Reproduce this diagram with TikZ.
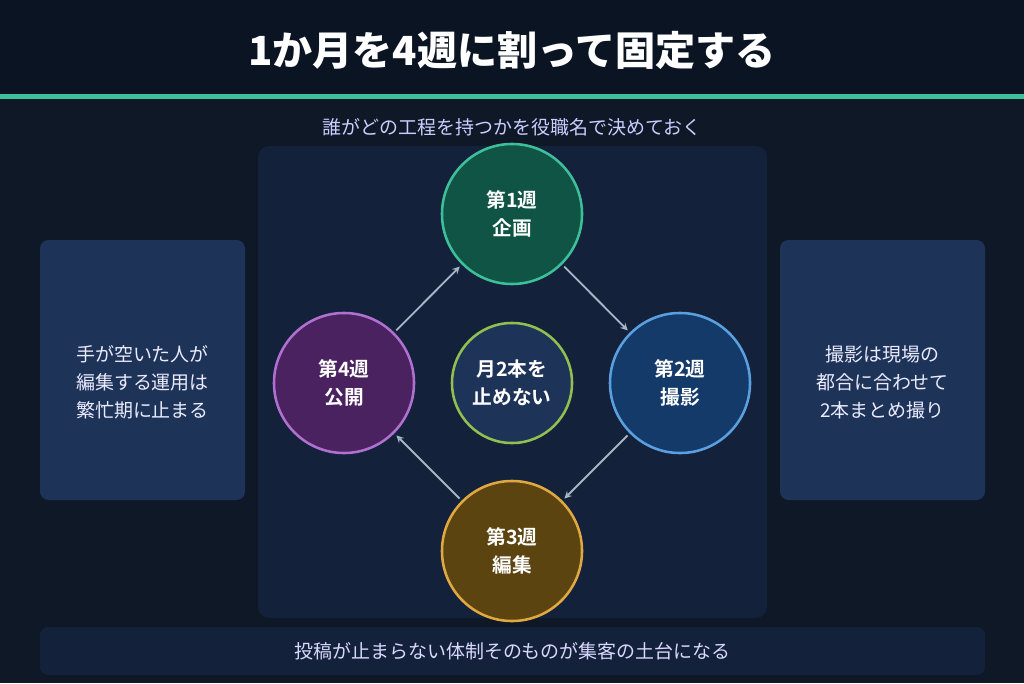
\documentclass[tikz,border=0pt]{standalone}
\usepackage{fontspec}
\setmainfont{Noto Sans CJK JP}
\newfontfamily\jpbold{Noto Sans CJK JP Bold}
\newfontfamily\jpblack{Noto Sans CJK JP Black}
\usetikzlibrary{positioning}
\definecolor{bgdark}{HTML}{0E1826}
\definecolor{bgtitle}{HTML}{0A1422}
\definecolor{accent}{HTML}{3DBF9A}
\definecolor{panel}{HTML}{14213A}
\definecolor{sidebox}{HTML}{1E3358}
\definecolor{arrowgray}{HTML}{A8B6C6}
\tikzset{
  week/.style={circle, minimum size=3.5cm, line width=1.8pt, text=white, align=center,
    font=\jpbold\fontsize{14}{20}\selectfont},
  side/.style={rounded corners=6pt, fill=sidebox, text=white!92!blue, align=center,
    minimum width=5.125cm, minimum height=6.5cm, font=\fontsize{13.5}{20}\selectfont},
  flow/.style={->, >=stealth, line width=1.3pt, arrowgray, shorten >=2pt, shorten <=2pt}
}
\begin{document}
\begin{tikzpicture}[x=0.025cm, y=-0.025cm]
  \useasboundingbox (0,0) rectangle (1024,683);
  \fill[bgdark] (0,0) rectangle (1024,683);
  \fill[bgtitle] (0,0) rectangle (1024,95);
  \fill[accent] (0,94) rectangle (1024,99);

  \node[text=white, font=\jpblack\fontsize{28.5}{32}\selectfont] (title) at (512,50) {1か月を4週に割って固定する};
  \node[text=white!80!blue, font=\fontsize{13.5}{16}\selectfont] (sub) at (512,127) {誰がどの工程を持つかを役職名で決めておく};

  \fill[panel, rounded corners=8pt] (258,146) rectangle (767,618);
  \fill[sidebox, rounded corners=6pt] (40,240) rectangle (245,500) (780,240) rectangle (985,500);
  \node[side, fill=none, minimum height=0pt] (left) at (142.5,382) {手が空いた人が\\編集する運用は\\繁忙期に止まる};
  \node[side, fill=none, minimum height=0pt] (right) at (882.5,382) {撮影は現場の\\都合に合わせて\\2本まとめ撮り};
  \node[rounded corners=6pt, fill=panel, minimum width=23.625cm, minimum height=1.2cm, text=white!85!blue,
    font=\fontsize{13.5}{16}\selectfont] (bottom) at (512.5,651) {投稿が止まらない体制そのものが集客の土台になる};

  % weeks
  \node[week, draw=accent, fill={rgb,255:red,15;green,84;blue,68}] (w1) at (512,214) {第1週\\企画};
  \node[week, draw={rgb,255:red,90;green,160;blue,224}, fill={rgb,255:red,20;green,58;blue,106}] (w2) at (680,383) {第2週\\撮影};
  \node[week, draw={rgb,255:red,224;green,168;blue,64}, fill={rgb,255:red,92;green,68;blue,16}] (w3) at (512,551) {第3週\\編集};
  \node[week, draw={rgb,255:red,176;green,112;blue,208}, fill={rgb,255:red,74;green,34;blue,96}] (w4) at (344,383) {第4週\\公開};
  \node[week, minimum size=3cm, draw={rgb,255:red,144;green,192;blue,80}, fill=sidebox] (core) at (512,383) {月2本を\\止めない};

  \draw[flow] (w1) -- (w2);
  \draw[flow] (w2) -- (w3);
  \draw[flow] (w3) -- (w4);
  \draw[flow] (w4) -- (w1);
\end{tikzpicture}
\end{document}
